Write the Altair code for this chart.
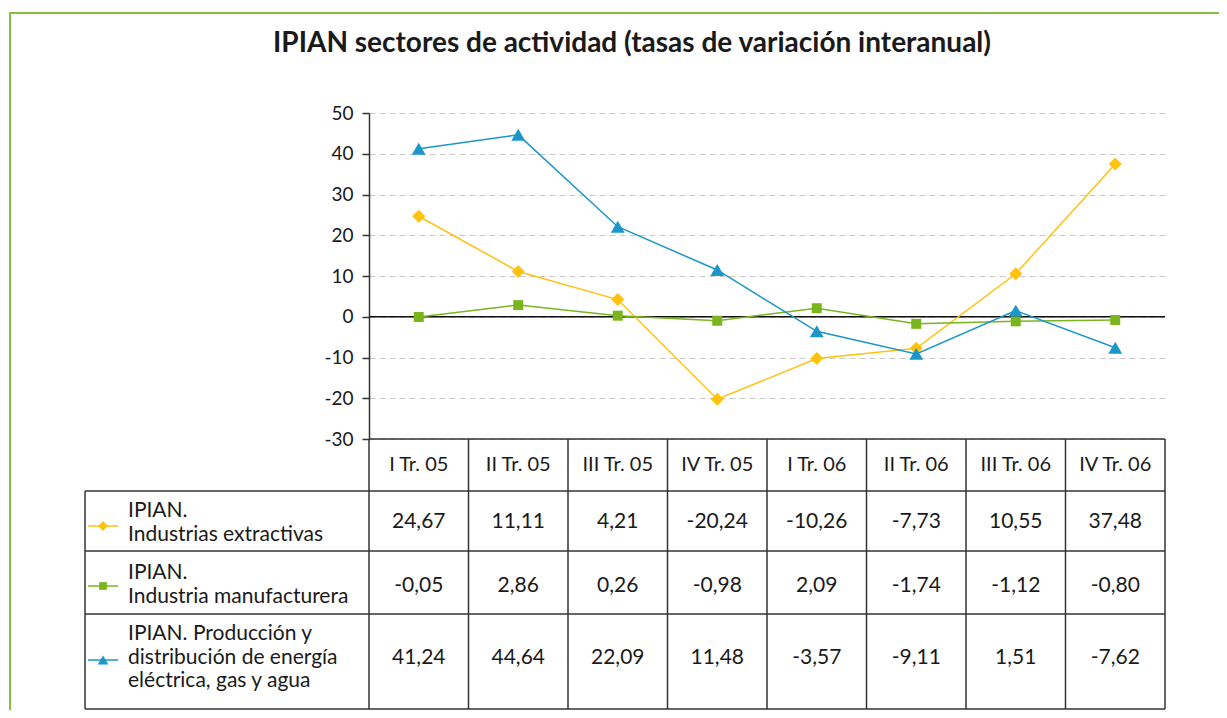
import altair as alt
import pandas as pd

# ---------------- data ----------------
categories = ["I Tr. 05", "II Tr. 05", "III Tr. 05", "IV Tr. 05",
              "I Tr. 06", "II Tr. 06", "III Tr. 06", "IV Tr. 06"]
extractivas = [24.67, 11.11, 4.21, -20.24, -10.26, -7.73, 10.55, 37.48]
manufacturera = [-0.05, 2.86, 0.26, -0.98, 2.09, -1.74, -1.12, -0.80]
energia = [41.24, 44.64, 22.09, 11.48, -3.57, -9.11, 1.51, -7.62]
series_names = ["Industrias extractivas", "Industria manufacturera", "Energía, gas y agua"]
series_labels = ["IPIAN.\nIndustrias extractivas",
                 "IPIAN.\nIndustria manufacturera",
                 "IPIAN. Producción y\ndistribución de energía\neléctrica, gas y agua"]
y_ticks = [-30, -20, -10, 0, 10, 20, 30, 40, 50]
title_text = "IPIAN sectores de actividad (tasas de variación interanual)"

# ---------------- styles ----------------
colors = ["#FFC20E", "#7AB51D", "#1A96C9"]
shapes = ["diamond", "square", "triangle-up"]
sizes = [170, 100, 190]
FONT = "Lato"
TXT = "#1a1a1a"
LINE = "#333333"

W, H = 796, 326            # plot area
LABEL_COL = 2.854          # label column width in column units
TABLE_BOTTOM = 596
ROW_LINES = [378, 438, 501, 596]
ROW_CENTERS = [409, 473, 545]
LABEL_FIRST_LINE = [398, 460, 521]
MARKER_Y = [413, 473, 547]
HEADER_Y = 352

rows = []
for s, vals in zip(series_names, [extractivas, manufacturera, energia]):
    for i, (c, v) in enumerate(zip(categories, vals)):
        rows.append({"series": s, "cat": c, "pos": i + 0.5, "value": v,
                     "label": f"{v:.2f}".replace(".", ",")})
df = pd.DataFrame(rows)
df_cat = pd.DataFrame({"cat": categories, "pos": [i + 0.5 for i in range(len(categories))]})

xscale = alt.Scale(domain=[0, len(categories)], nice=False, zero=False)
yscale = alt.Scale(domain=[-30, 50], nice=False, zero=False)
cscale = alt.Scale(domain=series_names, range=colors)
sscale = alt.Scale(domain=series_names, range=shapes)


def X(f):
    return alt.X(f, type="quantitative", scale=xscale, axis=None)


def X2(f):
    return alt.X2(f)


color = alt.Color("series:N", scale=cscale, legend=None)
shape = alt.Shape("series:N", scale=sscale, legend=None)

layers = []

# frame
layers.append(alt.Chart(pd.DataFrame({"a": [0]})).mark_rect(
    fillOpacity=0, stroke="#84C13A", strokeWidth=2).encode(
    x=alt.value(-359), y=alt.value(-100), x2=alt.value(900), y2=alt.value(700)))

# title
layers.append(alt.Chart(pd.DataFrame({"t": [title_text]})).mark_text(
    font=FONT, fontSize=28, fontWeight="bold", color=TXT, align="center", baseline="middle").encode(
    x=alt.value(263), y=alt.value(-69), text="t:N"))

# axis + grid via base line layer
base = alt.Chart(df).encode(
    x=X("pos"),
    y=alt.Y("value:Q", scale=yscale,
            axis=alt.Axis(values=y_ticks, title=None, grid=True, gridDash=[6, 4],
                          gridColor="#c9c9c9", gridWidth=1.2, domainColor=LINE,
                          domainWidth=1.5, tickColor=LINE, tickWidth=1.5, tickSize=7,
                          labelFont=FONT, labelFontSize=19, labelColor=TXT,
                          labelPadding=9, labelExpr="'' + datum.value")),
    color=color)

# zero line
layers.append(alt.Chart(pd.DataFrame({"z": [0], "x0": [0], "x1": [len(categories)]})).mark_rule(
    color="#111111", strokeWidth=1.5).encode(
    x=X("x0"), x2=X2("x1"), y=alt.Y("z:Q", scale=yscale)))

layers.append(base.mark_line(strokeWidth=1.5))
for k, s in enumerate(series_names):
    layers.append(base.transform_filter(alt.datum.series == s).mark_point(
        filled=True, opacity=1, size=sizes[k]).encode(shape=shape))

# table: vertical boundaries
df_b = pd.DataFrame({"b": list(range(len(categories) + 1))})
layers.append(alt.Chart(df_b).mark_rule(color=LINE, strokeWidth=1.5).encode(
    x=X("b"), y=alt.value(H), y2=alt.value(TABLE_BOTTOM)))
# header top
layers.append(alt.Chart(pd.DataFrame({"x0": [0], "x1": [len(categories)]})).mark_rule(
    color=LINE, strokeWidth=1.5).encode(x=X("x0"), x2=X2("x1"), y=alt.value(H)))
# left border of label column
layers.append(alt.Chart(pd.DataFrame({"x0": [-LABEL_COL]})).mark_rule(
    color=LINE, strokeWidth=1.5).encode(x=X("x0"), y=alt.value(ROW_LINES[0]), y2=alt.value(TABLE_BOTTOM)))
# horizontal row lines
for yy in ROW_LINES:
    layers.append(alt.Chart(pd.DataFrame({"x0": [-LABEL_COL], "x1": [len(categories)]})).mark_rule(
        color=LINE, strokeWidth=1.5).encode(x=X("x0"), x2=X2("x1"), y=alt.value(yy)))

# header labels
layers.append(alt.Chart(df_cat).mark_text(
    font=FONT, fontSize=20, color=TXT, align="center", baseline="middle").encode(
    x=X("pos"), y=alt.value(HEADER_Y), text="cat:N"))

# values + row labels + legend markers
for k, s in enumerate(series_names):
    sub = df[df["series"] == s]
    layers.append(alt.Chart(sub).mark_text(
        font=FONT, fontSize=21, color=TXT, align="center", baseline="middle").encode(
        x=X("pos"), y=alt.value(ROW_CENTERS[k]), text="label:N"))
    lab = pd.DataFrame({"series": [s], "text": [series_labels[k]]})
    layers.append(alt.Chart(lab).mark_text(
        font=FONT, fontSize=21, color=TXT, align="left", baseline="middle",
        lineBreak="\n", lineHeight=23.5).encode(
        x=alt.value(-241), y=alt.value(LABEL_FIRST_LINE[k]), text="text:N"))
    layers.append(alt.Chart(lab).mark_rule(strokeWidth=1.5).encode(
        x=alt.value(-281), x2=alt.value(-251), y=alt.value(MARKER_Y[k]), color=color))
    layers.append(alt.Chart(lab).mark_point(filled=True, opacity=1, size=sizes[k] * 0.6).encode(
        x=alt.value(-266), y=alt.value(MARKER_Y[k]), color=color, shape=shape))

chart = alt.layer(*layers).properties(
    width=W, height=H,
    autosize=alt.AutoSizeParams(type="none"),
    padding={"left": 361, "top": 105, "right": 54, "bottom": 271},
    background="white",
).configure_view(strokeWidth=0)

chart.save("out.html", embed_options={"renderer": "svg", "actions": False})
